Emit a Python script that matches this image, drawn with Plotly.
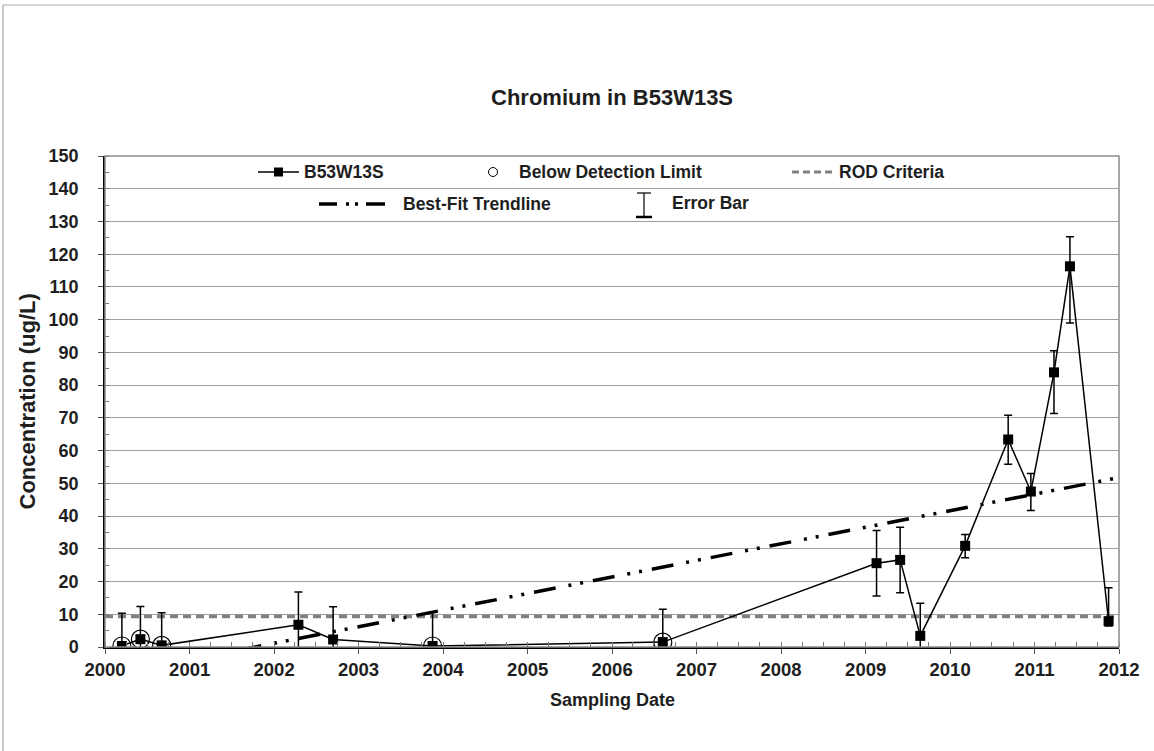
import numpy as np
import pandas as pd
import plotly.graph_objects as go

# ---------------- data ----------------
sample_dates = ["2000-03-14", "2000-06-02", "2000-09-02", "2002-04-16", "2002-09-13",
                "2003-11-17", "2006-08-08", "2009-02-17", "2009-05-30", "2009-08-25",
                "2010-03-07", "2010-09-09", "2010-12-16", "2011-03-26", "2011-06-03",
                "2011-11-17"]
concentration = [0.3, 2.4, 0.5, 6.8, 2.3, 0.3, 1.5, 25.6, 26.6, 3.4,
                 30.9, 63.4, 47.5, 83.9, 116.3, 7.9]
error_plus = [10.0, 10.0, 10.0, 10.0, 10.0, 10.3, 10.0, 10.0, 10.0, 10.0,
              3.5, 7.4, 5.5, 6.6, 9.0, 10.2]
error_minus = [10.0, 10.0, 10.0, 10.0, 10.0, 10.0, 10.0, 10.0, 10.0, 10.0,
               3.6, 7.6, 5.8, 12.6, 17.3, 1.5]
below_detection = [True, True, True, False, False, True, True, False, False, False,
                   False, False, False, False, False, False]
rod_criteria = 9.3
x_range = ["2000-01-01", "2012-01-01"]
y_range = [0, 150]

title_text = "Chromium in B53W13S"
x_title = "Sampling Date"
y_title = "Concentration (ug/L)"

# ---------------- layout geometry ----------------
W, H = 1154, 751
PL, PR, PT, PB = 105, 1119, 156, 647   # plot area in screen pixels
FONT = "Liberation Sans, Arial, sans-serif"
TXT = "#1e1e1e"


def px(x):
    return (x - PL) / (PR - PL)


def py(y):
    return (PB - y) / (PB - PT)


dates = pd.to_datetime(sample_dates)
nd_dates = [d for d, b in zip(dates, below_detection) if b]
nd_vals = [v for v, b in zip(concentration, below_detection) if b]

# linear best-fit trend line over the sampling period
dec_years = np.array([d.year + (d.dayofyear - 1) / 365.25 for d in dates])
slope, intercept = np.polyfit(dec_years, np.array(concentration), 1)
trend_x = [dates[0], dates[-1] + pd.Timedelta(days=20)]
trend_dec = [dec_years[0], dec_years[-1] + 20 / 365.25]
trend_y = [slope * t + intercept for t in trend_dec]

fig = go.Figure()

# ROD criteria line
fig.add_trace(go.Scatter(
    x=x_range, y=[rod_criteria, rod_criteria], mode="lines",
    line=dict(color="#808080", width=3.5, dash="8px,5px"),
    showlegend=False, hoverinfo="skip"))

# trend line
fig.add_trace(go.Scatter(
    x=trend_x, y=trend_y, mode="lines",
    line=dict(color="black", width=3.5, dash="22px,13px,3px,9px,3px,10px"),
    showlegend=False, hoverinfo="skip"))

# data series with error bars
fig.add_trace(go.Scatter(
    x=dates, y=concentration, mode="lines+markers",
    line=dict(color="black", width=1.5),
    marker=dict(symbol="square", size=10, color="black"),
    error_y=dict(type="data", symmetric=False, array=error_plus,
                 arrayminus=error_minus, color="black", thickness=1.5, width=4),
    showlegend=False))

# below detection limit circles
fig.add_trace(go.Scatter(
    x=nd_dates, y=nd_vals, mode="markers",
    marker=dict(symbol="circle-open", size=18, color="black", line=dict(width=1.2)),
    showlegend=False, hoverinfo="skip"))

shapes = []
annotations = []

# outer chart border
shapes.append(dict(type="rect", xref="paper", yref="paper",
                   x0=px(3), x1=px(1180), y0=py(775), y1=py(5),
                   line=dict(color="#a8a8a8", width=1.2), layer="below"))
# plot area border (gray)
shapes.append(dict(type="rect", xref="paper", yref="paper",
                   x0=0, x1=1, y0=0, y1=1,
                   line=dict(color="#8c8c8c", width=1.5), layer="above"))

# ---- manual legend ----
R1, R2 = 172, 204
LEG_FONT = dict(family=FONT, size=17.5, color=TXT, weight="bold")


def leg_text(x, y, s):
    annotations.append(dict(x=px(x), y=py(y), xref="paper", yref="paper", text=s,
                            showarrow=False, xanchor="left", yanchor="middle",
                            font=LEG_FONT))


def seg(x0, y0, x1, y1, color="black", width=1.5):
    shapes.append(dict(type="line", xref="paper", yref="paper",
                       x0=px(x0), x1=px(x1), y0=py(y0), y1=py(y1),
                       line=dict(color=color, width=width)))


# B53W13S
seg(258, R1, 299, R1, width=1.5)
shapes.append(dict(type="rect", xref="paper", yref="paper",
                   x0=px(274), x1=px(283), y0=py(R1 + 4.5), y1=py(R1 - 4.5),
                   fillcolor="black", line=dict(color="black", width=0)))
leg_text(302, R1, "B53W13S")
# Below detection limit
shapes.append(dict(type="circle", xref="paper", yref="paper",
                   x0=px(488.5), x1=px(497.5), y0=py(R1 + 4.5), y1=py(R1 - 4.5),
                   line=dict(color="black", width=1)))
leg_text(517, R1, "Below Detection Limit")
# ROD criteria
for a in range(792, 836, 11):
    seg(a, R1, min(a + 7, 836), R1, color="#808080", width=3)
leg_text(837, R1, "ROD Criteria")
# Best-fit trendline
seg(319, R2, 337, R2, width=3.5)
seg(346, R2, 349, R2, width=3.5)
seg(355, R2, 358, R2, width=3.5)
seg(366, R2, 385, R2, width=3.5)
leg_text(401, R2, "Best-Fit Trendline")
# Error bar
seg(644, 193, 644, 217, width=1.2)
seg(637, 193, 651, 193, width=1.2)
seg(636, 217, 652, 217, width=2.5)
leg_text(670, R2 - 1, "Error Bar")

# titles
annotations.append(dict(x=0.5, y=py(97), xref="paper", yref="paper", text=title_text,
                        showarrow=False, xanchor="center", yanchor="middle",
                        font=dict(family=FONT, size=22, color=TXT, weight="bold")))
annotations.append(dict(x=0.5, y=py(700), xref="paper", yref="paper", text=x_title,
                        showarrow=False, xanchor="center", yanchor="middle",
                        font=dict(family=FONT, size=18, color=TXT, weight="bold")))
annotations.append(dict(x=px(27), y=0.5, xref="paper", yref="paper", text=y_title,
                        showarrow=False, xanchor="center", yanchor="middle",
                        textangle=-90,
                        font=dict(family=FONT, size=22, color=TXT, weight="bold")))

fig.update_layout(
    width=W, height=H,
    margin=dict(l=PL, r=W - PR, t=PT, b=H - PB, pad=0),
    paper_bgcolor="white", plot_bgcolor="white",
    shapes=shapes, annotations=annotations,
    showlegend=False,
    font=dict(family=FONT, color=TXT),
)

fig.update_xaxes(
    type="date", range=x_range, dtick="M12", tickformat="%Y",
    showgrid=False, zeroline=False,
    showline=True, linecolor="black", linewidth=1.5,
    ticks="outside", ticklen=5, tickcolor="#555", tickwidth=1,
    ticklabelstandoff=0,
    tickfont=dict(family=FONT, size=18.5, color=TXT, weight="bold"),
    minor=dict(dtick="M3", ticks="inside", ticklen=5, tickcolor="#777", showgrid=False),
)
fig.update_yaxes(
    range=y_range, dtick=10, tick0=0,
    showgrid=True, gridcolor="#a0a0a0", gridwidth=1,
    zeroline=False,
    showline=True, linecolor="black", linewidth=1.5,
    ticks="outside", ticklen=5, tickcolor="#555", tickwidth=1,
    ticklabelstandoff=16,
    tickfont=dict(family=FONT, size=18, color=TXT, weight="bold"),
    minor=dict(dtick=5, ticks="inside", ticklen=4, tickcolor="#777", showgrid=False),
)

fig.write_html(
    "out.html",
    config={"displayModeBar": False},
    post_script="document.body.style.margin='0';document.body.style.overflow='hidden';",
)
